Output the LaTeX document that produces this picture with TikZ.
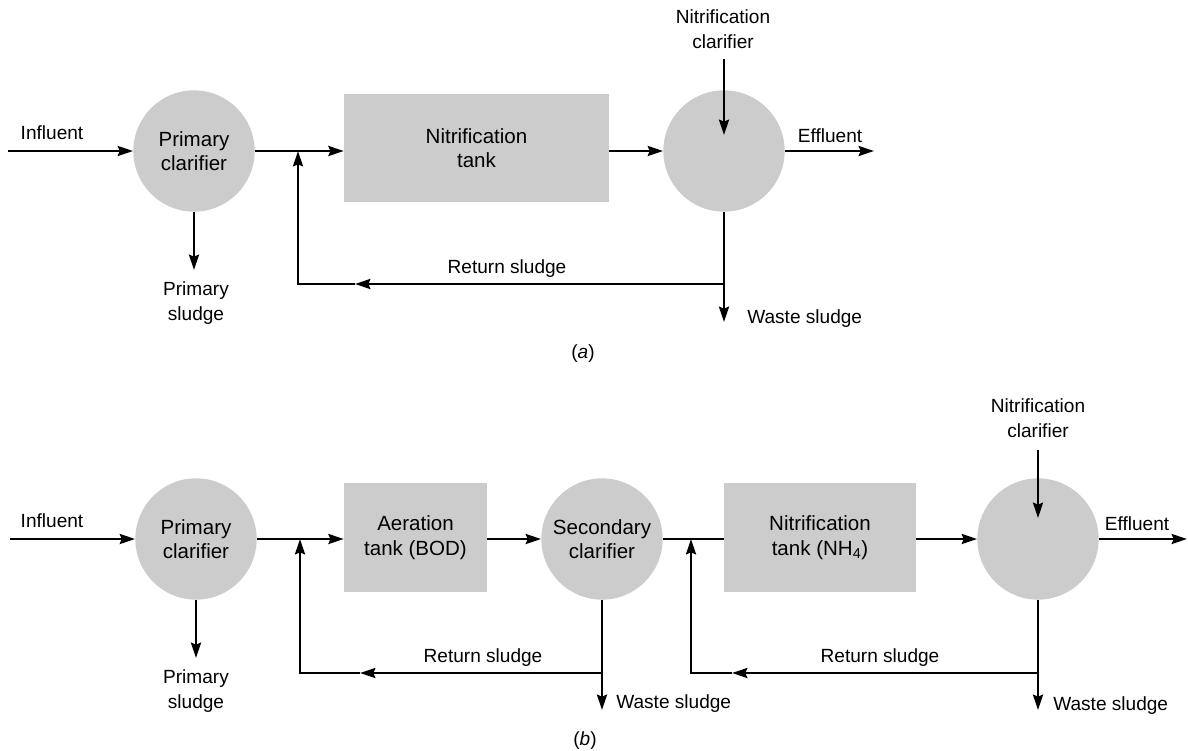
\documentclass[tikz,border=0pt]{standalone}
\usepackage{fontspec}
\setmainfont{Liberation Sans}
\usetikzlibrary{arrows.meta}
\definecolor{tankgray}{HTML}{CCCCCC}
\newcommand\blockfont{\fontsize{15.4}{18.5}\selectfont}
\newcommand\lblfont{\fontsize{14.3}{18.5}\selectfont}
\tikzset{
  pipe/.style={line width=1.8pt},
  flow/.style={line width=1.8pt, -{Stealth[length=11.5pt,width=7.5pt,inset=1.5pt]}},
  unit/.style={circle, fill=tankgray, minimum size=91pt, inner sep=0pt, align=center, font=\blockfont},
  tankbox/.style={rectangle, fill=tankgray, inner sep=0pt, align=center, font=\blockfont},
  lbl/.style={font=\lblfont, inner sep=0pt, align=center},
}
\begin{document}
\begin{tikzpicture}[x=0.75pt, y=-0.75pt]
\useasboundingbox (0,0) rectangle (1188,750);

% ---------------- (a) ----------------
\node[unit] (pcA) at (194,151) {Primary\\clarifier};
\node[tankbox, minimum width=198.75pt, minimum height=81pt] (ntA) at (476.5,148) {Nitrification\\tank};
\node[unit] (ncA) at (724,151) {};

\node[lbl, anchor=base] (infA) at (52,139) {Influent};
\node[lbl] (psA) at (196,303) {Primary\\sludge};
\node[lbl] (nclA) at (723,29.5) {Nitrification\\clarifier};
\node[lbl, anchor=base] (effA) at (830,142) {Effluent};
\node[lbl, anchor=base west] (wsA) at (747,323) {Waste sludge};
\node[lbl, anchor=base] (rsA) at (507,273) {Return sludge};
\node[lbl, anchor=base] (capA) at (583,358) {(\textit{a})};

\coordinate (inA) at (8,151);
\coordinate (psendA) at (194,270);
\coordinate (jA) at (298,151);
\coordinate (jbA) at (298,284);
\coordinate (rmA) at (355,284);
\coordinate (rA) at (724,284);
\coordinate (wendA) at (724,322);
\coordinate (ntopA) at (724,59);
\coordinate (nendA) at (724,135);
\coordinate (effendA) at (874,151);

\draw[flow] (inA) -- (pcA.west);
\draw[flow] (pcA.south) -- (psendA);
\draw[flow] (pcA.east) -- (ntA.west |- pcA.east);
\draw[flow] (ntA.east |- ncA.west) -- (ncA.west);
\draw[flow] (ntopA) -- (nendA);
\draw[flow] (ncA.east) -- (effendA);
\draw[flow] (ncA.south) -- (wendA);
\draw[flow] (rA) -- (rmA);
\draw[flow] (rmA) -- (jbA) -- (jA);

% ---------------- (b) ----------------
\node[unit] (pcB) at (196,539) {Primary\\clarifier};
\node[tankbox, minimum width=107.25pt, minimum height=81.75pt] (atB) at (415.5,537.5) {Aeration\\tank (BOD)};
\node[unit] (scB) at (602,539) {Secondary\\clarifier};
\node[tankbox, minimum width=144pt, minimum height=81.75pt] (ntB) at (820,537.5) {Nitrification\\tank (NH\textsubscript{4})};
\node[unit] (ncB) at (1038,539) {};

\node[lbl, anchor=base] (infB) at (52,527) {Influent};
\node[lbl] (psB) at (196,691) {Primary\\sludge};
\node[lbl] (nclB) at (1038,418.5) {Nitrification\\clarifier};
\node[lbl, anchor=base] (effB) at (1137,530) {Effluent};
\node[lbl, anchor=base west] (ws1B) at (616,708) {Waste sludge};
\node[lbl, anchor=base west] (ws2B) at (1053,710) {Waste sludge};
\node[lbl, anchor=base] (rs1B) at (483,662) {Return sludge};
\node[lbl, anchor=base] (rs2B) at (880,662) {Return sludge};
\node[lbl, anchor=base] (capB) at (585,745) {(\textit{b})};

\coordinate (inB) at (10,539);
\coordinate (psendB) at (196,658);
\coordinate (j1B) at (300,539);
\coordinate (jb1B) at (300,673);
\coordinate (rm1B) at (360,673);
\coordinate (r1B) at (602,673);
\coordinate (wend1B) at (602,710);
\coordinate (j2B) at (691,539);
\coordinate (jb2B) at (691,673);
\coordinate (rm2B) at (732,673);
\coordinate (r2B) at (1038,673);
\coordinate (wend2B) at (1038,710);
\coordinate (ntopB) at (1038,450);
\coordinate (nendB) at (1038,518);
\coordinate (effendB) at (1187,539);

\draw[flow] (inB) -- (pcB.west);
\draw[flow] (pcB.south) -- (psendB);
\draw[flow] (pcB.east) -- (atB.west |- pcB.east);
\draw[flow] (atB.east |- scB.west) -- (scB.west);
\draw[pipe] (scB.east) -- (ntB.west |- scB.east);
\draw[flow] (ntB.east |- ncB.west) -- (ncB.west);
\draw[flow] (ntopB) -- (nendB);
\draw[flow] (ncB.east) -- (effendB);
\draw[flow] (scB.south) -- (wend1B);
\draw[flow] (ncB.south) -- (wend2B);
\draw[flow] (r1B) -- (rm1B);
\draw[flow] (rm1B) -- (jb1B) -- (j1B);
\draw[flow] (r2B) -- (rm2B);
\draw[flow] (rm2B) -- (jb2B) -- (j2B);
\end{tikzpicture}
\end{document}
